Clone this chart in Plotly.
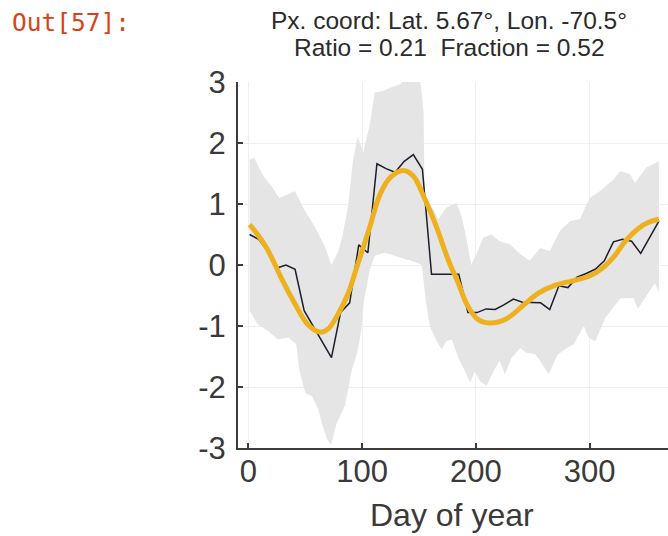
import plotly.graph_objects as go

# ---- data -------------------------------------------------------------
# 8-day composite anomaly series
obs_days = [1, 9, 17, 25, 33, 41, 49, 57, 65, 73, 81, 89, 97, 105, 113, 121,
            129, 137, 145, 153, 161, 169, 177, 185, 193, 201, 209, 217, 225,
            233, 241, 249, 257, 265, 273, 281, 289, 297, 305, 313, 321, 329,
            337, 345, 353, 361]
obs_vals = [0.50, 0.42, 0.22, -0.05, 0.00, -0.07, -0.75, -1.00, -1.25, -1.52,
            -0.78, -0.62, 0.33, 0.20, 1.66, 1.58, 1.52, 1.70, 1.81, 1.57,
            -0.15, -0.15, -0.16, -0.15, -0.78, -0.78, -0.72, -0.73, -0.65,
            -0.56, -0.61, -0.62, -0.62, -0.73, -0.34, -0.37, -0.20, -0.14,
            -0.07, 0.07, 0.38, 0.42, 0.39, 0.19, 0.45, 0.72]

# smooth seasonal fit
fit_days = [1, 8, 16, 24, 29, 41, 52, 63, 70, 79, 88, 95, 106, 116, 125, 136,
            145, 154, 165, 176, 184, 192, 201, 212, 227, 243, 255, 270, 285,
            300, 312, 322, 331, 343, 352, 361]
fit_vals = [0.66, 0.50, 0.28, -0.02, -0.22, -0.64, -0.97, -1.10, -1.05, -0.80,
            -0.45, -0.05, 0.58, 1.17, 1.44, 1.55, 1.46, 1.13, 0.64, 0.07,
            -0.27, -0.64, -0.88, -0.95, -0.88, -0.64, -0.46, -0.33, -0.26,
            -0.18, -0.04, 0.15, 0.38, 0.60, 0.70, 0.75]

# spread envelope (upper / lower)
upper_days = [1, 5, 13, 20, 27, 35, 41, 49, 58, 67, 73, 79, 83, 88, 92, 96,
              101, 107, 111, 118, 124, 133, 138, 151, 154, 155, 163, 167, 174,
              183, 187.5, 192, 196, 201, 206.5, 214, 221, 230, 239, 247.5,
              256.5, 265, 274, 283, 291.5, 300, 309, 321, 327, 335.5, 340,
              350, 359, 361]
upper_vals = [1.73, 1.76, 1.46, 1.30, 1.10, 1.16, 1.21, 0.91, 0.64, 0.31,
              0.00, 0.22, 0.50, 1.02, 1.73, 2.10, 1.85, 2.33, 2.83, 2.85,
              2.90, 2.96, 3.05, 3.05, 2.50, 1.00, 0.91, 0.75, 0.94, 1.02,
              0.80, 0.40, 0.00, 0.20, 0.45, 0.50, 0.39, 0.34, 0.18, 0.07,
              0.28, 0.23, 0.56, 0.72, 0.75, 1.10, 1.21, 1.40, 1.54, 1.49,
              1.35, 1.60, 1.68, 1.70]
lower_days = [1, 8, 17, 26, 35, 42, 45, 50, 56, 61, 65.5, 69, 72.5, 77.5, 85,
              90.5, 95.5, 99, 101.5, 106.5, 111, 120, 129, 137.5, 146.5,
              152.5, 156, 159.5, 165.5, 170, 174, 179, 184.5, 190.5, 195,
              199, 203.5, 209.5, 215.5, 221, 225.5, 231.5, 239, 244.5, 252,
              256.5, 264, 272, 280, 286, 295, 299, 305, 314, 327, 338.5,
              342.5, 352, 357.5, 361]
lower_vals = [-0.75, -0.97, -1.08, -1.22, -1.19, -1.30, -1.74, -2.10, -2.15,
              -2.35, -2.65, -2.85, -2.95, -2.60, -2.30, -1.75, -1.45, -1.10,
              -0.60, -0.10, 0.15, 0.20, 0.15, 0.10, 0.05, 0.00, -0.60, -1.00,
              -1.25, -1.38, -1.25, -1.22, -1.52, -1.74, -1.93, -1.74, -1.90,
              -1.98, -1.74, -1.57, -1.79, -1.52, -1.36, -1.44, -1.46, -1.57,
              -1.79, -1.47, -1.36, -1.30, -1.00, -1.19, -1.25, -0.86, -0.55,
              -0.54, -0.72, -0.45, -0.30, -0.45]

x_ticks = [0, 100, 200, 300]
x_ticktext = ["0", "100", "200", "300"]
y_ticks = [-3, -2, -1, 0, 1, 2, 3]
y_ticktext = ["-3", "-2", "-1", "0", "1", "2", "3"]

title_1 = "Px. coord: Lat. 5.67°, Lon. -70.5°"
title_2 = "Ratio = 0.21  Fraction = 0.52"
x_title = "Day of year"
prompt = "Out[57]:"

# ---- layout geometry (pixels) ------------------------------------------
W, H = 668, 536
ML, MR, MT, MB = 238, 0, 82, 88
PW, PH = W - ML - MR, H - MT - MB


def px_x(p):
    return (p - ML) / PW


def px_y(p):
    return (H - MB - p) / PH


FONT = "Liberation Sans, Arial, Helvetica, sans-serif"
TXT = "#3a3a3a"

fig = go.Figure()

# envelope polygon
fig.add_trace(go.Scatter(
    x=upper_days + lower_days[::-1],
    y=upper_vals + lower_vals[::-1],
    fill="toself", fillcolor="#e5e5e5",
    line=dict(width=0, color="rgba(0,0,0,0)"),
    mode="lines", hoverinfo="skip", showlegend=False))

fig.add_trace(go.Scatter(
    x=obs_days, y=obs_vals, mode="lines",
    line=dict(color="#1d1d2b", width=1.5), showlegend=False))

fig.add_trace(go.Scatter(
    x=fit_days, y=fit_vals, mode="lines",
    line=dict(color="#EDB120", width=5, shape="spline", smoothing=1.0),
    showlegend=False))

axis_common = dict(
    showgrid=True, gridcolor="#efefef", gridwidth=1,
    zeroline=False, showline=True, linecolor="#3c3c3c", linewidth=2,
    ticks="inside", ticklen=5, tickwidth=1.5, tickcolor="#3c3c3c",
    tickfont=dict(family=FONT, size=31, color=TXT),
)

fig.update_xaxes(range=[-9.2, 369], tickmode="array", tickvals=x_ticks,
                 ticktext=x_ticktext, ticklabelstandoff=-5, **axis_common)
fig.update_yaxes(range=[-3, 3], tickmode="array", tickvals=y_ticks,
                 ticktext=y_ticktext, ticklabelstandoff=4, **axis_common)

annotations = [
    dict(text=prompt, x=px_x(10), y=px_y(22), xanchor="left", yanchor="middle",
         font=dict(family="DejaVu Sans Mono, monospace", size=24.5,
                   color="#D84315")),
    dict(text=title_1, x=px_x(449), y=px_y(20), xanchor="center",
         yanchor="middle", font=dict(family=FONT, size=24.5, color="#2b2b2b")),
    dict(text=title_2, x=px_x(449), y=px_y(47), xanchor="center",
         yanchor="middle", font=dict(family=FONT, size=24.5, color="#2b2b2b")),
    dict(text=x_title, x=px_x(452), y=px_y(515), xanchor="center",
         yanchor="middle", font=dict(family=FONT, size=32, color=TXT)),
]
for a in annotations:
    a.update(xref="paper", yref="paper", showarrow=False)

fig.update_layout(
    width=W, height=H,
    margin=dict(l=ML, r=MR, t=MT, b=MB, pad=0),
    paper_bgcolor="white", plot_bgcolor="white",
    annotations=annotations, showlegend=False,
)

fig.write_html("out.html")
